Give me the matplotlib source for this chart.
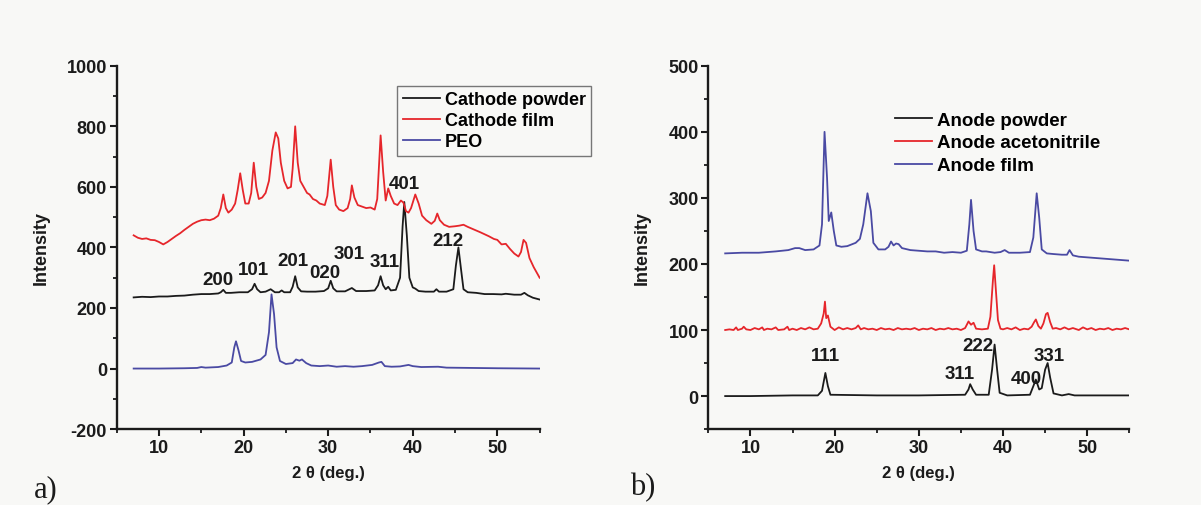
import numpy as np
import matplotlib
matplotlib.use("Agg")
import matplotlib.pyplot as plt
from matplotlib.ticker import MultipleLocator

# ---- XRD patterns, (2theta, counts) pairs ----
cathode_film_x = [7.0, 7.5, 8.0, 8.5, 9.0, 9.5, 10.0, 10.5, 11.0, 11.5, 12.0, 12.5, 13.0, 13.5, 14.0, 14.5,
                  15.0, 15.5, 16.0, 16.5, 17.0, 17.3, 17.6, 17.9, 18.2, 18.6, 19.0, 19.3, 19.6, 19.9, 20.2,
                  20.6, 20.9, 21.2, 21.5, 21.8, 22.2, 22.6, 23.0, 23.4, 23.8, 24.1, 24.4, 24.8, 25.2, 25.6,
                  25.8, 26.1, 26.4, 26.7, 27.1, 27.5, 27.8, 28.2, 28.6, 29.0, 29.6, 29.9, 30.3, 30.6, 30.9,
                  31.3, 31.8, 32.3, 32.6, 32.8, 33.1, 33.5, 34.0, 34.5, 35.0, 35.5, 35.8, 36.2, 36.5, 36.8,
                  37.1, 37.4, 37.8, 38.2, 38.6, 38.9, 39.2, 39.5, 39.8, 40.3, 40.7, 41.1, 41.6, 42.2, 42.6,
                  42.9, 43.2, 43.7, 44.3, 45.0, 45.5, 46.0, 46.5, 47.0, 48.0, 49.0, 49.6, 50.0, 50.5, 51.0,
                  51.5, 52.0, 52.5, 52.8, 53.1, 53.4, 53.8, 54.3, 55.0]
cathode_film_y = [440, 432, 428, 430, 425, 424, 418, 410, 418, 428, 438, 447, 458, 468, 478, 485,
                  490, 492, 490, 495, 505, 530, 575, 530, 515, 525, 545, 590, 645, 590, 545,
                  545, 580, 680, 600, 560, 565, 580, 620, 720, 780, 760, 680, 620, 595, 600,
                  660, 800, 680, 620, 600, 580, 575, 560, 555, 545, 540, 570, 690, 600, 540,
                  525, 520, 530, 560, 605, 565, 540, 535, 530, 532, 525, 560, 770, 650, 555,
                  595, 570, 545, 540, 555, 548, 520, 515, 530, 575, 545, 505, 490, 478, 488,
                  512, 490, 475, 468, 470, 472, 475, 468, 462, 450, 437, 428, 425, 410, 412,
                  395, 380, 370, 385, 425, 415, 365, 335, 300]

cathode_powder_x = [7.0, 8.0, 9.0, 10.0, 11.0, 12.0, 13.0, 14.0, 15.0, 16.0, 17.0, 17.3, 17.6, 17.9, 18.5,
                    19.5, 20.5, 21.0, 21.3, 21.6, 22.0, 22.6, 23.2, 23.7, 24.2, 24.5, 24.8, 25.5, 25.8,
                    26.1, 26.4, 26.8, 27.5, 28.5, 29.5, 30.0, 30.3, 30.6, 31.0, 32.0, 32.8, 33.3, 34.5,
                    35.5, 35.9, 36.2, 36.5, 36.8, 37.1, 37.4, 38.0, 38.5, 38.8, 39.0, 39.3, 39.6, 40.0,
                    40.3, 40.7, 41.5, 42.5, 42.8, 43.1, 44.0, 44.8, 45.1, 45.4, 45.7, 46.0, 46.5, 47.5,
                    48.5, 49.5, 50.5, 51.0, 52.0, 52.8, 53.2, 53.6, 54.2, 55.0]
cathode_powder_y = [235, 237, 236, 238, 238, 240, 241, 244, 246, 246, 248, 252, 260, 250, 250,
                    252, 252, 262, 280, 262, 252, 254, 262, 252, 252, 258, 252, 252, 270,
                    305, 268, 255, 254, 254, 256, 265, 290, 265, 255, 255, 266, 256, 256,
                    258, 275, 305, 275, 262, 270, 258, 260, 300, 470, 550, 440, 300, 268,
                    264, 256, 254, 254, 262, 254, 254, 262, 340, 400, 330, 262, 252, 250,
                    246, 246, 245, 247, 244, 244, 250, 242, 234, 228]

peo_x = [7.0, 10.0, 13.0, 14.5, 15.0, 15.5, 17.0, 18.0, 18.6, 18.9, 19.1, 19.4, 19.7, 20.2, 21.0, 22.0,
         22.6, 23.0, 23.3, 23.6, 23.9, 24.3, 25.0, 25.8, 26.2, 26.6, 26.9, 27.4, 28.0, 29.0, 30.0, 31.0,
         32.0, 33.0, 34.0, 35.2, 36.0, 36.3, 36.7, 37.5, 38.5, 39.5, 40.0, 41.0, 43.0, 44.0, 47.0,
         50.0, 55.0]
peo_y = [0, 0, 1, 2, 5, 3, 5, 10, 20, 70, 90, 60, 25, 20, 22, 30,
         45, 120, 245, 180, 70, 25, 15, 18, 30, 26, 30, 18, 10, 8, 10, 6,
         8, 6, 8, 12, 20, 22, 8, 6, 7, 12, 8, 5, 6, 3, 2,
         1, 0]

anode_film_x = [7.0, 9.0, 11.0, 13.0, 14.5, 15.3, 15.8, 16.5, 17.5, 18.2, 18.5, 18.8, 19.1, 19.3, 19.6,
                19.9, 20.2, 20.8, 21.5, 22.5, 23.0, 23.4, 23.9, 24.3, 24.6, 25.2, 26.0, 26.4, 26.7,
                27.0, 27.3, 27.6, 28.0, 29.0, 30.0, 31.0, 32.0, 33.0, 34.0, 35.0, 35.7, 36.0, 36.2,
                36.5, 36.8, 37.5, 38.0, 39.0, 39.7, 40.2, 40.7, 42.0, 43.2, 43.6, 44.0, 44.3, 44.6,
                45.2, 46.0, 47.0, 47.6, 47.9, 48.3, 49.0, 50.0, 52.0, 55.0]
anode_film_y = [216, 217, 217, 219, 221, 224, 224, 221, 222, 228, 260, 400, 330, 265, 278,
                250, 228, 226, 227, 232, 238, 260, 307, 280, 232, 222, 222, 226, 234,
                228, 231, 230, 224, 221, 220, 219, 219, 217, 218, 217, 220, 260, 297,
                250, 222, 219, 219, 217, 218, 221, 217, 217, 218, 240, 307, 270, 222,
                216, 215, 214, 214, 221, 213, 211, 210, 208, 205]

anode_acn_x = [7.0, 7.5, 8.0, 8.3, 8.5, 9.0, 9.2, 9.5, 10.0, 10.5, 11.0, 11.4, 11.6, 12.0, 12.5, 13.0,
               13.3, 14.0, 14.4, 14.6, 15.0, 15.5, 16.0, 16.5, 17.0, 17.5, 18.0, 18.4, 18.7, 18.85,
               19.0, 19.2, 19.5, 20.0, 20.5, 21.0, 21.5, 22.0, 22.5, 22.8, 23.1, 23.5, 24.0, 24.5,
               25.0, 25.5, 26.0, 26.5, 27.0, 27.5, 28.0, 28.5, 29.0, 29.5, 30.0, 30.5, 31.0, 31.5,
               32.0, 32.5, 33.0, 33.5, 34.0, 34.5, 35.0, 35.5, 35.9, 36.2, 36.5, 36.8, 37.5, 38.2,
               38.5, 38.8, 38.95, 39.1, 39.4, 39.7, 40.0, 40.5, 41.0, 41.5, 42.0, 42.5, 43.0, 43.4,
               43.7, 43.9, 44.2, 44.5, 44.8, 45.1, 45.3, 45.6, 45.9, 46.3, 46.8, 47.3, 47.8, 48.3,
               49.0, 49.5, 50.0, 50.5, 51.0, 51.5, 52.0, 52.5, 53.0, 53.5, 54.0, 54.5, 55.0]
anode_acn_y = [100, 101, 100, 104, 100, 102, 105, 101, 100, 103, 101, 104, 100, 102, 101, 104,
               100, 101, 105, 100, 102, 100, 103, 101, 104, 101, 102, 110, 125, 143,
               118, 122, 105, 100, 104, 101, 103, 101, 103, 107, 101, 103, 101, 102,
               100, 103, 101, 102, 100, 103, 101, 102, 101, 103, 100, 102, 101, 103,
               100, 102, 101, 103, 101, 102, 100, 103, 113, 108, 111, 102, 101, 102,
               120, 175, 198, 170, 115, 102, 101, 103, 101, 104, 100, 102, 101, 105,
               112, 116, 106, 102, 110, 124, 126, 112, 102, 103, 101, 104, 101, 103,
               100, 104, 101, 103, 100, 102, 101, 103, 100, 102, 101, 103, 101]

anode_powder_x = [7.0, 10.0, 15.0, 18.0, 18.5, 18.9, 19.2, 19.5, 25.0, 30.0, 35.5, 35.9, 36.1, 36.4,
                  36.8, 38.3, 38.7, 39.0, 39.3, 39.6, 40.5, 43.2, 43.6, 43.9, 44.3, 44.6, 45.0, 45.3,
                  45.6, 46.0, 47.0, 47.8, 48.5, 55.0]
anode_powder_y = [0, 0, 1, 1, 8, 35, 15, 2, 1, 1, 2, 10, 18, 10,
                  2, 2, 40, 78, 40, 5, 1, 2, 15, 25, 10, 12, 40, 50,
                  28, 4, 1, 3, 1, 1]

# Miller indices of the reflections
cathode_hkl = ["200", "101", "201", "020", "301", "311", "401", "212"]
cathode_hkl_x = [17.0, 21.2, 25.8, 29.6, 32.5, 36.7, 39.0, 44.2]
cathode_hkl_y = [295, 328, 358, 318, 381, 352, 612, 422]

anode_hkl = ["111", "311", "222", "400", "331"]
anode_hkl_x = [18.9, 34.9, 37.0, 42.8, 45.5]
anode_hkl_y = [61, 34, 76, 26, 62]

BLACK = "#1b1b1b"
RED = "#e6262b"
BLUE = "#4a4aa3"
BG = "#f8f8f6"

plt.rcParams["font.family"] = ["Liberation Sans", "DejaVu Sans"]
plt.rcParams["font.weight"] = "bold"
plt.rcParams["axes.unicode_minus"] = False

fig = plt.figure(figsize=(12.01, 5.06), dpi=100, facecolor=BG)
ax1 = fig.add_axes([0.0972, 0.150, 0.3521, 0.718])
ax2 = fig.add_axes([0.5898, 0.150, 0.3505, 0.718])


def style_axes(ax, ymin, ymax, ymajor):
    ax.set_facecolor(BG)
    ax.set_xlim(5, 55)
    ax.set_ylim(ymin, ymax)
    ax.xaxis.set_major_locator(MultipleLocator(10))
    ax.xaxis.set_minor_locator(MultipleLocator(5))
    ax.yaxis.set_major_locator(MultipleLocator(ymajor))
    ax.yaxis.set_minor_locator(MultipleLocator(ymajor / 2))
    for s in ["top", "right"]:
        ax.spines[s].set_visible(False)
    for s in ["left", "bottom"]:
        ax.spines[s].set_linewidth(1.7)
        ax.spines[s].set_color(BLACK)
    ax.tick_params(which="major", direction="out", length=5, width=1.5, labelsize=13,
                   colors=BLACK, pad=2)
    ax.tick_params(which="minor", direction="out", length=3, width=1.3, colors=BLACK)
    for lab in ax.get_xticklabels() + ax.get_yticklabels():
        lab.set_fontweight("bold")
    ax.set_xlabel("2 θ (deg.)", fontsize=12, fontweight="bold", color=BLACK)
    ax.xaxis.set_label_coords(0.5, -0.1)


# ---- a) cathode ----
style_axes(ax1, -200, 1000, 200)
ax1.plot(cathode_powder_x, cathode_powder_y, color=BLACK, lw=1.3, label="Cathode powder")
ax1.plot(cathode_film_x, cathode_film_y, color=RED, lw=1.3, label="Cathode film")
ax1.plot(peo_x, peo_y, color=BLUE, lw=1.3, label="PEO")
for t, x, y in zip(cathode_hkl, cathode_hkl_x, cathode_hkl_y):
    ax1.text(x, y, t, ha="center", va="center", fontsize=13.5, fontweight="bold", color=BLACK)
ax1.set_ylabel("Intensity", fontsize=13, fontweight="bold", color=BLACK)
ax1.yaxis.set_label_coords(-0.158, 0.5)
leg1 = ax1.legend(loc="upper left", bbox_to_anchor=(0.663, 0.945), borderaxespad=0,
                  fontsize=13, handlelength=2.1, handletextpad=0.25, labelspacing=0.22,
                  borderpad=0.3, fancybox=False, framealpha=1, facecolor=BG)
leg1.get_frame().set_edgecolor("#777777")
leg1.get_frame().set_linewidth(1.0)
for txt in leg1.get_texts():
    txt.set_fontweight("bold")

# ---- b) anode ----
style_axes(ax2, -50, 500, 100)
ax2.plot(anode_powder_x, anode_powder_y, color=BLACK, lw=1.3, label="Anode powder")
ax2.plot(anode_acn_x, anode_acn_y, color=RED, lw=1.3, label="Anode acetonitrile")
ax2.plot(anode_film_x, anode_film_y, color=BLUE, lw=1.3, label="Anode film")
for t, x, y in zip(anode_hkl, anode_hkl_x, anode_hkl_y):
    ax2.text(x, y, t, ha="center", va="center", fontsize=13.5, fontweight="bold", color=BLACK)
ax2.set_ylabel("Intensity", fontsize=13, fontweight="bold", color=BLACK)
ax2.yaxis.set_label_coords(-0.136, 0.5)
leg2 = ax2.legend(loc="upper left", bbox_to_anchor=(0.425, 0.895), borderaxespad=0,
                  fontsize=13.5, handlelength=2.0, handletextpad=0.25, labelspacing=0.3,
                  frameon=False)
for txt in leg2.get_texts():
    txt.set_fontweight("bold")

# panel letters
fig.text(0.038, 0.032, "a)", fontsize=22, family="Liberation Serif", fontweight="normal",
         ha="center", va="center", color=BLACK)
fig.text(0.535, 0.036, "b)", fontsize=22, family="Liberation Serif", fontweight="normal",
         ha="center", va="center", color=BLACK)

fig.savefig("out.png", dpi=100, facecolor=BG)
